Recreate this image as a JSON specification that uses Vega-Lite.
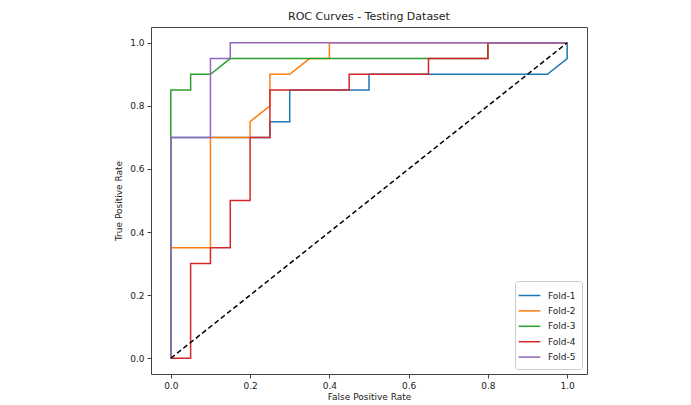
{
  "$schema": "https://vega.github.io/schema/vega-lite/v6.json",
  "width": 436,
  "height": 347,
  "autosize": {"type": "none"},
  "padding": {"left": 151, "top": 27, "right": 104, "bottom": 31},
  "background": "white",
  "title": {"text": "ROC Curves - Testing Dataset", "font": "DejaVu Sans", "fontSize": 11, "fontWeight": "normal", "color": "#222", "anchor": "middle", "offset": 5},
  "config": {
    "view": {"stroke": "#444", "strokeWidth": 1},
    "axis": {"grid": false, "domain": false, "labelFont": "DejaVu Sans", "labelFontSize": 9, "labelColor": "#222", "titleFont": "DejaVu Sans", "titleFontSize": 9, "titleFontWeight": "normal", "titleColor": "#222", "tickColor": "#444", "tickSize": 4, "labelPadding": 3}
  },
  "datasets": {
    "roc": [
      {"fold": "Fold-1", "i": 0, "fpr": 0, "tpr": 0},
      {"fold": "Fold-1", "i": 1, "fpr": 0, "tpr": 0.7},
      {"fold": "Fold-1", "i": 2, "fpr": 0.25, "tpr": 0.7},
      {"fold": "Fold-1", "i": 3, "fpr": 0.25, "tpr": 0.75},
      {"fold": "Fold-1", "i": 4, "fpr": 0.3, "tpr": 0.75},
      {"fold": "Fold-1", "i": 5, "fpr": 0.3, "tpr": 0.85},
      {"fold": "Fold-1", "i": 6, "fpr": 0.5, "tpr": 0.85},
      {"fold": "Fold-1", "i": 7, "fpr": 0.5, "tpr": 0.9},
      {"fold": "Fold-1", "i": 8, "fpr": 0.95, "tpr": 0.9},
      {"fold": "Fold-1", "i": 9, "fpr": 1, "tpr": 0.95},
      {"fold": "Fold-1", "i": 10, "fpr": 1, "tpr": 1},
      {"fold": "Fold-2", "i": 0, "fpr": 0, "tpr": 0},
      {"fold": "Fold-2", "i": 1, "fpr": 0, "tpr": 0.35},
      {"fold": "Fold-2", "i": 2, "fpr": 0.1, "tpr": 0.35},
      {"fold": "Fold-2", "i": 3, "fpr": 0.1, "tpr": 0.7},
      {"fold": "Fold-2", "i": 4, "fpr": 0.2, "tpr": 0.7},
      {"fold": "Fold-2", "i": 5, "fpr": 0.2, "tpr": 0.75},
      {"fold": "Fold-2", "i": 6, "fpr": 0.25, "tpr": 0.8},
      {"fold": "Fold-2", "i": 7, "fpr": 0.25, "tpr": 0.9},
      {"fold": "Fold-2", "i": 8, "fpr": 0.3, "tpr": 0.9},
      {"fold": "Fold-2", "i": 9, "fpr": 0.35, "tpr": 0.95},
      {"fold": "Fold-2", "i": 10, "fpr": 0.4, "tpr": 0.95},
      {"fold": "Fold-2", "i": 11, "fpr": 0.4, "tpr": 1},
      {"fold": "Fold-2", "i": 12, "fpr": 1, "tpr": 1},
      {"fold": "Fold-3", "i": 0, "fpr": 0, "tpr": 0},
      {"fold": "Fold-3", "i": 1, "fpr": 0, "tpr": 0.85},
      {"fold": "Fold-3", "i": 2, "fpr": 0.05, "tpr": 0.85},
      {"fold": "Fold-3", "i": 3, "fpr": 0.05, "tpr": 0.9},
      {"fold": "Fold-3", "i": 4, "fpr": 0.1, "tpr": 0.9},
      {"fold": "Fold-3", "i": 5, "fpr": 0.15, "tpr": 0.95},
      {"fold": "Fold-3", "i": 6, "fpr": 0.8, "tpr": 0.95},
      {"fold": "Fold-3", "i": 7, "fpr": 0.8, "tpr": 1},
      {"fold": "Fold-3", "i": 8, "fpr": 1, "tpr": 1},
      {"fold": "Fold-4", "i": 0, "fpr": 0, "tpr": 0},
      {"fold": "Fold-4", "i": 1, "fpr": 0.05, "tpr": 0},
      {"fold": "Fold-4", "i": 2, "fpr": 0.05, "tpr": 0.3},
      {"fold": "Fold-4", "i": 3, "fpr": 0.1, "tpr": 0.3},
      {"fold": "Fold-4", "i": 4, "fpr": 0.1, "tpr": 0.35},
      {"fold": "Fold-4", "i": 5, "fpr": 0.15, "tpr": 0.35},
      {"fold": "Fold-4", "i": 6, "fpr": 0.15, "tpr": 0.5},
      {"fold": "Fold-4", "i": 7, "fpr": 0.2, "tpr": 0.5},
      {"fold": "Fold-4", "i": 8, "fpr": 0.2, "tpr": 0.7},
      {"fold": "Fold-4", "i": 9, "fpr": 0.25, "tpr": 0.7},
      {"fold": "Fold-4", "i": 10, "fpr": 0.25, "tpr": 0.85},
      {"fold": "Fold-4", "i": 11, "fpr": 0.45, "tpr": 0.85},
      {"fold": "Fold-4", "i": 12, "fpr": 0.45, "tpr": 0.9},
      {"fold": "Fold-4", "i": 13, "fpr": 0.65, "tpr": 0.9},
      {"fold": "Fold-4", "i": 14, "fpr": 0.65, "tpr": 0.95},
      {"fold": "Fold-4", "i": 15, "fpr": 0.8, "tpr": 0.95},
      {"fold": "Fold-4", "i": 16, "fpr": 0.8, "tpr": 1},
      {"fold": "Fold-4", "i": 17, "fpr": 1, "tpr": 1},
      {"fold": "Fold-5", "i": 0, "fpr": 0, "tpr": 0},
      {"fold": "Fold-5", "i": 1, "fpr": 0, "tpr": 0.7},
      {"fold": "Fold-5", "i": 2, "fpr": 0.1, "tpr": 0.7},
      {"fold": "Fold-5", "i": 3, "fpr": 0.1, "tpr": 0.95},
      {"fold": "Fold-5", "i": 4, "fpr": 0.15, "tpr": 0.95},
      {"fold": "Fold-5", "i": 5, "fpr": 0.15, "tpr": 1},
      {"fold": "Fold-5", "i": 6, "fpr": 1, "tpr": 1}
    ],
    "diag": [
      {"i": 0, "fpr": 0, "tpr": 0},
      {"i": 1, "fpr": 1, "tpr": 1}
    ]
  },
  "layer": [
    {
      "data": {"name": "roc"},
      "mark": {"type": "line", "strokeWidth": 1.5, "interpolate": "linear"},
      "encoding": {
        "x": {"field": "fpr", "type": "quantitative", "title": "False Positive Rate", "scale": {"domain": [-0.05, 1.05], "nice": false, "zero": false}, "axis": {"values": [0, 0.2, 0.4, 0.6, 0.8, 1.0], "format": ".1f", "titlePadding": 2}},
        "y": {"field": "tpr", "type": "quantitative", "title": "True Positive Rate", "scale": {"domain": [-0.05, 1.05], "nice": false, "zero": false}, "axis": {"values": [0, 0.2, 0.4, 0.6, 0.8, 1.0], "format": ".1f", "titlePadding": 6}},
        "color": {"field": "fold", "type": "nominal", "scale": {"domain": ["Fold-1", "Fold-2", "Fold-3", "Fold-4", "Fold-5"], "range": ["#1f77b4", "#ff7f0e", "#2ca02c", "#d62728", "#9467bd"]},
          "legend": {"title": null, "orient": "bottom-right", "offset": 5, "symbolType": "M-1.45,0H1.45", "symbolSize": 225, "symbolStrokeWidth": 1.5, "labelFont": "DejaVu Sans", "labelFontSize": 9, "labelColor": "#222", "rowPadding": 1.4, "padding": 6, "strokeColor": "#ccc", "fillColor": "white", "cornerRadius": 3, "labelOffset": 10}},
        "order": {"field": "i", "type": "quantitative"}
      }
    },
    {
      "data": {"name": "diag"},
      "mark": {"type": "line", "color": "black", "strokeWidth": 1.5, "strokeDash": [5, 3]},
      "encoding": {
        "x": {"field": "fpr", "type": "quantitative"},
        "y": {"field": "tpr", "type": "quantitative"},
        "order": {"field": "i", "type": "quantitative"}
      }
    }
  ]
}
